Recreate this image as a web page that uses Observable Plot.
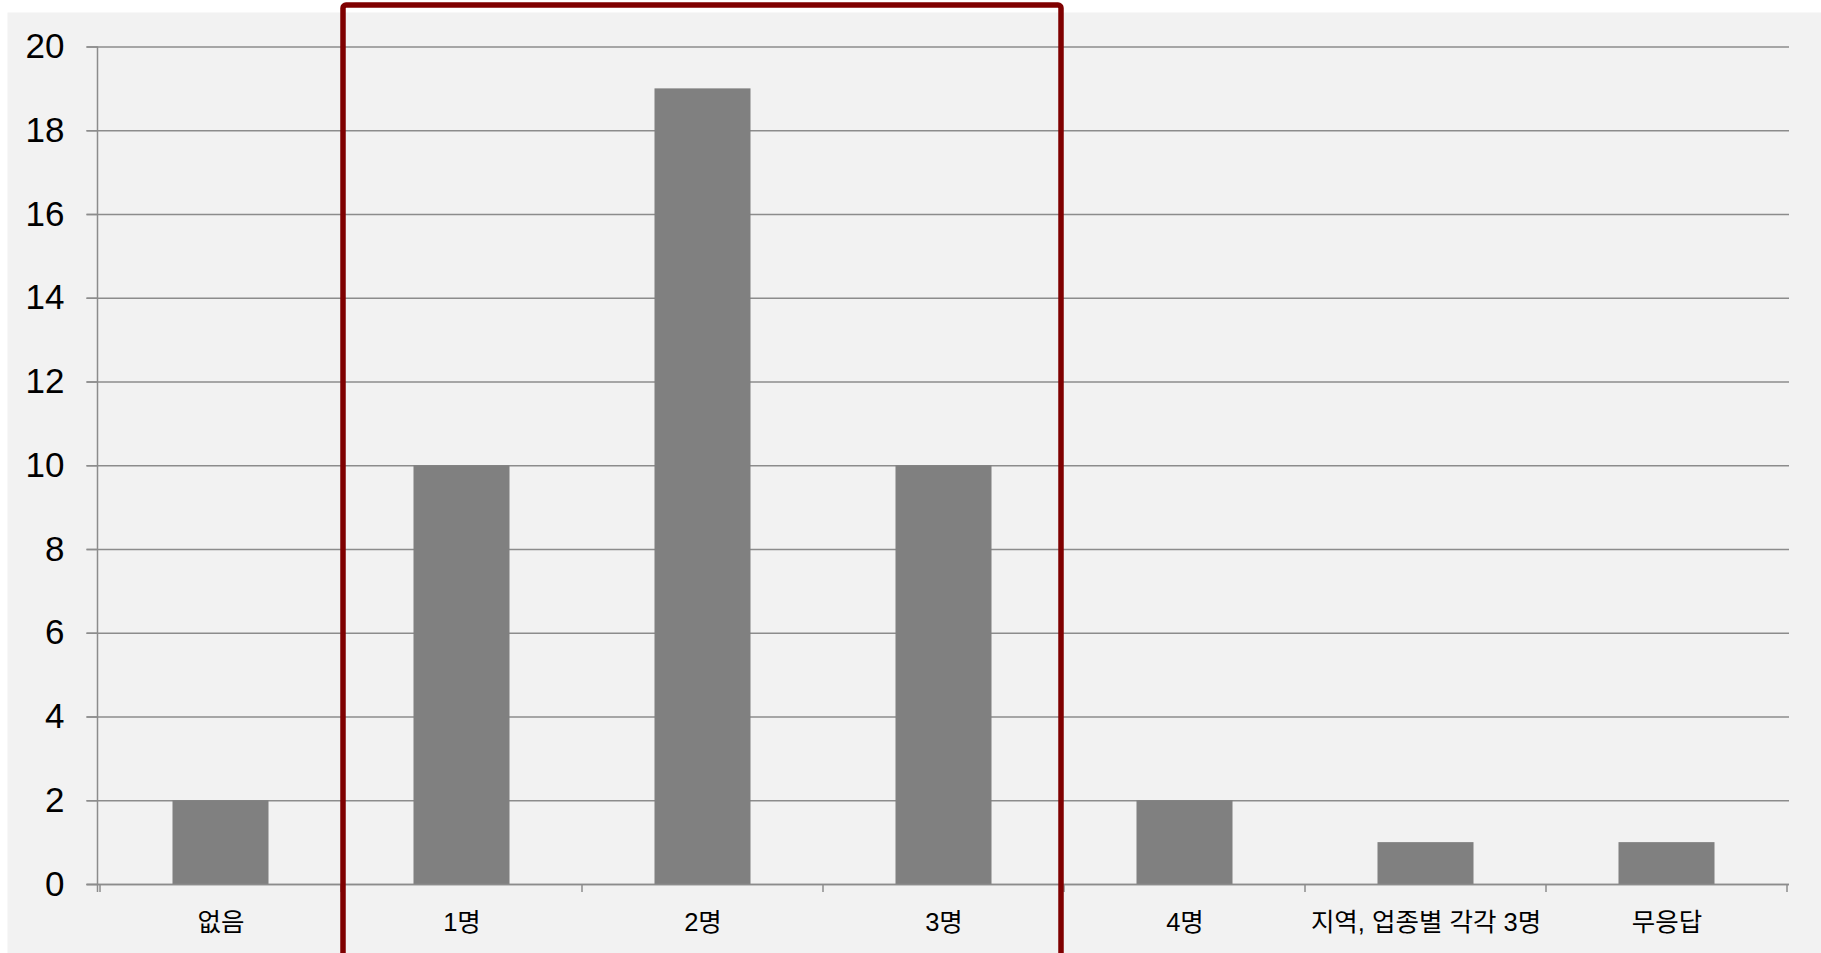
<!DOCTYPE html>
<html>
<head>
<meta charset="utf-8">
<script src="https://cdn.jsdelivr.net/npm/d3@7"></script>
<script src="https://cdn.jsdelivr.net/npm/@observablehq/plot@0.6"></script>
<style>
  html, body { margin: 0; padding: 0; background: #ffffff; }
  #chart svg { display: block; }
</style>
</head>
<body>
<div id="chart"></div>
<script>
// ---- data ----
const categories = ["없음", "1명", "2명", "3명", "4명", "지역, 업종별 각각 3명", "무응답"];
const values = [2, 10, 19, 10, 2, 1, 1];
const yTicks = [0, 2, 4, 6, 8, 10, 12, 14, 16, 18, 20];
const highlighted = ["1명", "2명", "3명"];

const data = categories.map((c, i) => ({category: c, value: values[i]}));

// ---- layout / style ----
const W = 1821, H = 953;
const mL = 97.5, mR = 32, mT = 46.5, mB = 69;
const bandW = (W - mL - mR) / categories.length;
const barInset = (bandW - bandW / 2.5) / 2;
const gridColor = "#8c8c8c";
const font = "'Liberation Sans', Arial, 'Noto Sans CJK KR', sans-serif";

// y-axis vertical line (extends a little below the baseline)
function yAxisLine(index, scales, values, dims) {
  const g = d3.create("svg:g");
  g.append("line")
    .attr("x1", dims.marginLeft).attr("x2", dims.marginLeft)
    .attr("y1", scales.y(d3.max(yTicks))).attr("y2", scales.y(0) + 8)
    .attr("stroke", gridColor).attr("stroke-width", 1.5);
  return g.node();
}

// x-axis ticks at category boundaries
function xBoundaryTicks(index, scales, values, dims) {
  const g = d3.create("svg:g");
  const bw = scales.x.bandwidth();
  const xs = categories.map(c => scales.x(c)).concat([scales.x(categories[categories.length - 1]) + bw]);
  const y0 = scales.y(0);
  g.selectAll("line").data(xs).join("line")
    .attr("x1", d => d).attr("x2", d => d)
    .attr("y1", y0).attr("y2", y0 + 8)
    .attr("stroke", gridColor).attr("stroke-width", 1.5);
  return g.node();
}

// highlight box around a group of categories
function highlightBox(index, scales, values, dims) {
  const g = d3.create("svg:g");
  const bw = scales.x.bandwidth();
  const x1 = scales.x(highlighted[0]) + 2;
  const x2 = scales.x(highlighted[highlighted.length - 1]) + bw - 3;
  g.append("rect")
    .attr("x", x1).attr("y", 5)
    .attr("width", x2 - x1).attr("height", dims.height + 20)
    .attr("rx", 3)
    .attr("fill", "none")
    .attr("stroke", "#7f0000")
    .attr("stroke-width", 5.5);
  return g.node();
}

const chart = Plot.plot({
  width: W,
  height: H,
  marginLeft: mL,
  marginRight: mR,
  marginTop: mT,
  marginBottom: mB,
  style: {fontFamily: font, color: "#000000", background: "#ffffff"},
  x: {domain: categories, padding: 0, label: null},
  y: {domain: [0, 20], label: null},
  marks: [
    Plot.frame({fill: "#f2f2f2", stroke: null,
      insetLeft: -(mL - 7), insetTop: -(mT - 12), insetRight: -mR, insetBottom: -mB}),
    Plot.gridY(yTicks, {stroke: gridColor, strokeOpacity: 1, strokeWidth: 1.5, insetLeft: -11}),
    Plot.barY(data, {x: "category", y: "value", fill: "#808080", insetLeft: barInset, insetRight: barInset}),
    Plot.ruleY([0], {stroke: gridColor, strokeWidth: 1.5, insetLeft: -11}),
    yAxisLine,
    xBoundaryTicks,
    Plot.axisY({ticks: yTicks, tickSize: 11, tickPadding: 22.5, fontSize: 35,
      stroke: gridColor, strokeWidth: 1.5, label: null, tickFormat: d => String(d)}),
    Plot.axisX({tickSize: 0, tickPadding: 28.5, fontSize: 25.5, label: null}),
    highlightBox
  ]
});

document.getElementById("chart").appendChild(chart);
</script>
</body>
</html>
